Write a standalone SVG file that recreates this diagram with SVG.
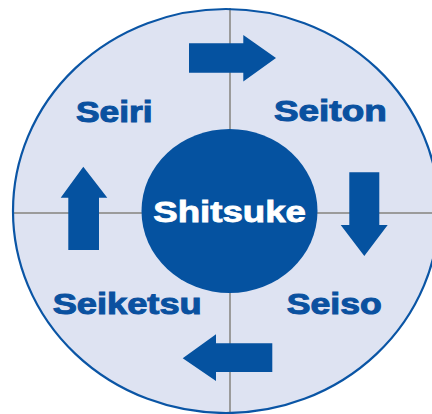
<svg xmlns="http://www.w3.org/2000/svg" width="432" height="414" viewBox="0 0 432 414">
  <style>
    .lbl { font-family: "Liberation Sans", Arial, sans-serif; font-weight: bold; font-size: 29px; fill: #0A51A0; stroke: #0A51A0; stroke-width: 1px; }
    .center { fill: #FFFFFF; stroke: #FFFFFF; stroke-width: 0.8px; }
    .axis { stroke: #9B9B9B; stroke-width: 2; fill: none; }
    .arrow { fill: #0552A0; }
  </style>
  <rect x="0" y="0" width="432" height="414" fill="#FFFFFF"/>
  <g id="background">
    <ellipse cx="226" cy="211" rx="213" ry="202" fill="#DEE3F2"/>
    <line class="axis" x1="13" y1="213" x2="432" y2="213"/>
    <line class="axis" x1="230" y1="8" x2="230" y2="414"/>
    <ellipse cx="226" cy="211" rx="213" ry="202" fill="none" stroke="#0A55A5" stroke-width="2.2"/>
  </g>
  <g id="connectors">
    <polygon class="arrow" points="189,43.3 243.3,43.3 243.3,35 276,58 243.3,81.5 243.3,72.7 189,72.7"/>
    <polygon class="arrow" points="349.3,172.3 379.3,172.3 379.3,225 387.7,225 364.3,256 340.7,225 349.3,225"/>
    <polygon class="arrow" points="272.3,343.3 272.3,372 216,372 216,381 182.7,358.3 216,334.3 216,343.3"/>
    <polygon class="arrow" points="68.3,250 99,250 99,197.7 107.3,197.7 83.3,166.7 60.7,197.7 68.3,197.7"/>
  </g>
  <g id="shitsuke">
    <ellipse cx="229.5" cy="211" rx="88" ry="82" fill="#0552A0"/>
    <text class="lbl center" x="153.3" y="221.7" textLength="152.7" lengthAdjust="spacingAndGlyphs">Shitsuke</text>
  </g>
  <g id="seiri">
    <text class="lbl" x="76" y="121.7" textLength="76.7" lengthAdjust="spacingAndGlyphs">Seiri</text>
  </g>
  <g id="seiton">
    <text class="lbl" x="274" y="120.7" textLength="112.7" lengthAdjust="spacingAndGlyphs">Seiton</text>
  </g>
  <g id="seiso">
    <text class="lbl" x="286.7" y="314" textLength="95" lengthAdjust="spacingAndGlyphs">Seiso</text>
  </g>
  <g id="seiketsu">
    <text class="lbl" x="52.7" y="314" textLength="149" lengthAdjust="spacingAndGlyphs">Seiketsu</text>
  </g>
</svg>
